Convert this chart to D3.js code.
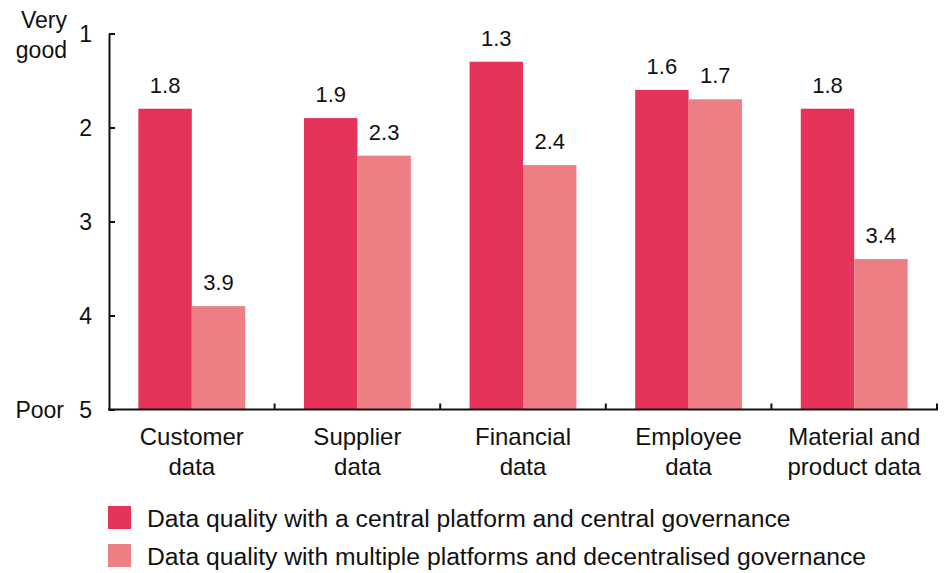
<!DOCTYPE html>
<html><head><meta charset="utf-8">
<script src="https://cdn.jsdelivr.net/npm/d3@7"></script>
<style>body{margin:0;background:#fff}svg{display:block}text{font-family:"Liberation Sans",Arial,sans-serif;fill:#111}</style>
</head><body><svg id="c" width="949" height="573"></svg>
<script>
const categories = [["Customer","data"],["Supplier","data"],["Financial","data"],["Employee","data"],["Material and","product data"]];
const centralValues = [1.8, 1.9, 1.3, 1.6, 1.8];
const multipleValues = [3.9, 2.3, 2.4, 1.7, 3.4];
const yTicks = [1, 2, 3, 4, 5];
const seriesNames = ["Data quality with a central platform and central governance",
  "Data quality with multiple platforms and decentralised governance"];
const colors = ["#E5335A", "#ED7E84"];

(function () {
const svg = d3.select("#c");
const mLeft = 109, mRight = 937, mTop = 33.5, mBottom = 409.5;
const x = d3.scaleBand().domain(d3.range(categories.length)).range([mLeft, mRight]).paddingInner(0).paddingOuter(0);
const y = d3.scaleLinear().domain([1, 5]).range([mTop, mBottom]);
const inner = d3.scaleBand().domain([0, 1]).range([0, x.bandwidth()]).paddingOuter(0.55).paddingInner(0);
const series = [centralValues, multipleValues];

series.forEach((vals, s) => {
  svg.append("g").selectAll("rect").data(vals).join("rect")
    .attr("x", (d, i) => x(i) + inner(s))
    .attr("width", inner.bandwidth())
    .attr("y", d => y(d))
    .attr("height", d => y(5) - y(d))
    .attr("fill", colors[s]);
  svg.append("g").selectAll("text").data(vals).join("text")
    .attr("x", (d, i) => x(i) + inner(s) + inner.bandwidth() / 2)
    .attr("y", d => y(d) - 16)
    .attr("text-anchor", "middle")
    .attr("font-size", 22)
    .text(d => d.toFixed(1));
});

// y axis
const ya = svg.append("g").attr("transform", `translate(${mLeft},0)`)
  .call(d3.axisRight(y).tickValues(yTicks).tickSize(6).tickSizeOuter(0).tickFormat(d3.format("d")));
ya.select(".domain").attr("stroke", "#111").attr("stroke-width", 2);
ya.selectAll(".tick line").attr("stroke", "#111").attr("stroke-width", 2);
ya.selectAll(".tick text").attr("x", -17).attr("text-anchor", "end").attr("font-size", 23)
  .attr("dy", "0.36em").style("font-family", '"Liberation Sans",Arial,sans-serif').attr("fill", "#111");

// x axis
const boundaries = d3.range(1, categories.length + 1).map(i => mLeft + i * x.bandwidth());
svg.append("line").attr("x1", mLeft - 1).attr("x2", mRight + 1).attr("y1", mBottom).attr("y2", mBottom)
  .attr("stroke", "#111").attr("stroke-width", 2);
svg.append("g").selectAll("line").data(boundaries).join("line")
  .attr("x1", d => d).attr("x2", d => d).attr("y1", mBottom).attr("y2", mBottom - 6)
  .attr("stroke", "#111").attr("stroke-width", 2);

const cl = svg.append("g").selectAll("text").data(categories).join("text")
  .attr("text-anchor", "middle").attr("font-size", 24)
  .attr("transform", (d, i) => `translate(${x(i) + x.bandwidth() / 2},0)`);
cl.selectAll("tspan").data(d => d).join("tspan")
  .attr("x", 0).attr("y", (d, j) => 445 + j * 30).text(d => d);

// y labels
svg.append("text").attr("x", 67).attr("y", 28).attr("text-anchor", "end").attr("font-size", 23).text("Very");
svg.append("text").attr("x", 67).attr("y", 58).attr("text-anchor", "end").attr("font-size", 23).text("good");
svg.append("text").attr("x", 64).attr("y", 418).attr("text-anchor", "end").attr("font-size", 23).text("Poor");

// legend
const lg = svg.append("g").selectAll("g").data(seriesNames).join("g")
  .attr("transform", (d, i) => `translate(108,${506 + i * 38})`);
lg.append("rect").attr("width", 23).attr("height", 23).attr("fill", (d, i) => colors[i]);
lg.append("text").attr("x", 39).attr("y", 21).attr("font-size", 24.7).text(d => d);
})();
</script></body></html>
